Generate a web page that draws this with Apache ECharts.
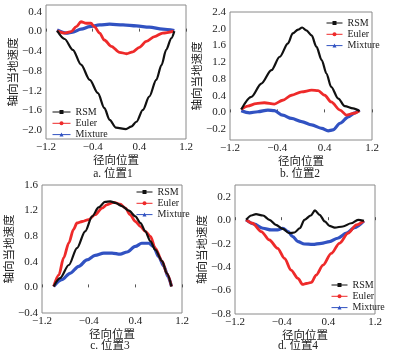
<!DOCTYPE html>
<html>
<head>
<meta charset="utf-8">
<script src="https://cdn.jsdelivr.net/npm/echarts@6/dist/echarts.min.js"></script>
<style>
	html, body { margin: 0; padding: 0; background: #fff; }
	#main { width: 394px; height: 359px; }
</style>
</head>
<body>
<div id="main"></div>
<script>
	// 刻度
	var xTicks = [-1.2, -0.4, 0.4, 1.2]
	var yTicksA = [-2.0, -1.6, -1.2, -0.8, -0.4, 0, 0.4]
	var yLabelsA = ['−2.0', '−1.6', '−1.2', '−0.8', '−0.4', '0.0', '0.4']
	var yTicksB = [-0.4, 0, 0.4, 0.8, 1.2, 1.6, 2.0, 2.4]
	var yLabelsB = ['−0.2', '0.0', '0.4', '0.8', '1.2', '1.6', '2.0', '2.4'] // 原图最下方标的就是 -0.2
	var yTicksC = [-0.4, 0, 0.4, 0.8, 1.2, 1.6]
	var yLabelsC = ['−0.4', '0.0', '0.4', '0.8', '1.2', '1.6']
	var yTicksD = [-0.8, -0.6, -0.4, -0.2, 0, 0.2]
	var yLabelsD = ['−0.8', '−0.6', '−0.4', '−0.2', '0.0', '0.2']
	var captions = ['a. 位置1', 'b. 位置2', 'c. 位置3', 'd. 位置4']
	var names = ['RSM', 'Euler', 'Mixture']

	// 位置1 [径向位置, 轴向当地速度]
	var rsm1 = [[-1.01, 0.02], [-0.88, -0.15], [-0.74, -0.37], [-0.60, -0.67], [-0.45, -0.98], [-0.31, -1.25], [-0.20, -1.55], [-0.11, -1.79], [0.00, -1.95], [0.17, -1.98], [0.26, -1.93], [0.35, -1.83], [0.46, -1.59], [0.57, -1.32], [0.69, -0.98], [0.78, -0.68], [0.86, -0.37], [0.95, -0.13], [1.00, 0.01]]
	var euler1 = [[-1.01, 0.015], [-0.88, -0.03], [-0.77, 0.0], [-0.68, 0.10], [-0.60, 0.20], [-0.51, 0.17], [-0.43, 0.17], [-0.37, 0.10], [-0.28, -0.03], [-0.20, -0.17], [-0.08, -0.30], [0.06, -0.42], [0.18, -0.45], [0.29, -0.41], [0.40, -0.32], [0.52, -0.20], [0.66, -0.10], [0.80, -0.03], [0.99, 0.01]]
	var mix1 = [[-1.01, 0.035], [-0.85, -0.03], [-0.74, -0.01], [-0.60, 0.05], [-0.45, 0.10], [-0.28, 0.135], [-0.11, 0.15], [0.12, 0.135], [0.35, 0.115], [0.57, 0.09], [0.80, 0.05], [1.00, 0.02]]

	// 位置2
	var rsm2 = [[-1.01, 0.07], [-0.84, 0.37], [-0.67, 0.69], [-0.50, 1.01], [-0.36, 1.33], [-0.22, 1.65], [-0.14, 1.89], [-0.05, 1.98], [0.02, 2.03], [0.09, 1.96], [0.18, 1.84], [0.26, 1.57], [0.35, 1.25], [0.43, 0.93], [0.51, 0.61], [0.63, 0.33], [0.74, 0.15], [0.88, 0.095], [0.99, 0.03]]
	var euler2 = [[-1.01, 0.07], [-0.90, 0.15], [-0.76, 0.21], [-0.62, 0.23], [-0.45, 0.20], [-0.31, 0.29], [-0.16, 0.41], [0.01, 0.49], [0.18, 0.53], [0.29, 0.52], [0.40, 0.41], [0.51, 0.25], [0.66, 0.055], [0.77, -0.065], [0.88, -0.025], [0.99, 0.04]]
	var mix2 = [[-1.01, 0.04], [-0.87, -0.01], [-0.73, 0.015], [-0.56, 0.055], [-0.45, 0.04], [-0.31, -0.065], [-0.16, -0.145], [0.01, -0.22], [0.18, -0.30], [0.35, -0.38], [0.46, -0.44], [0.54, -0.42], [0.66, -0.26], [0.80, -0.105], [0.91, -0.01], [0.99, 0.055]]

	// 位置3
	var rsm3 = [[-1.00, 0.015], [-0.89, 0.145], [-0.74, 0.35], [-0.60, 0.615], [-0.46, 0.876], [-0.34, 1.11], [-0.23, 1.25], [-0.12, 1.335], [-0.03, 1.345], [0.06, 1.32], [0.17, 1.27], [0.29, 1.20], [0.40, 1.11], [0.49, 1.005], [0.57, 0.876], [0.66, 0.72], [0.74, 0.59], [0.86, 0.41], [0.94, 0.22], [1.02, 0.015]]
	var euler3 = [[-1.00, 0.015], [-0.91, 0.197], [-0.83, 0.46], [-0.74, 0.695], [-0.66, 0.905], [-0.60, 1.006], [-0.51, 1.03], [-0.40, 1.06], [-0.29, 1.136], [-0.17, 1.24], [-0.09, 1.29], [0.03, 1.33], [0.14, 1.30], [0.23, 1.24], [0.31, 1.136], [0.40, 1.03], [0.49, 0.95], [0.57, 0.876], [0.66, 0.798], [0.74, 0.615], [0.86, 0.41], [0.94, 0.22], [1.02, 0.015]]
	var mix3 = [[-1.00, 0.015], [-0.86, 0.12], [-0.72, 0.22], [-0.57, 0.33], [-0.43, 0.43], [-0.29, 0.50], [-0.14, 0.537], [0.00, 0.537], [0.14, 0.52], [0.26, 0.553], [0.40, 0.64], [0.51, 0.69], [0.63, 0.69], [0.71, 0.64], [0.80, 0.48], [0.89, 0.33], [0.96, 0.17], [1.02, 0.015]]

	// 位置4
	var rsm4 = [[-1.01, 0.003], [-0.92, 0.04], [-0.84, 0.051], [-0.72, 0.04], [-0.61, 0.003], [-0.50, -0.04], [-0.38, -0.074], [-0.27, -0.111], [-0.18, -0.105], [-0.09, -0.069], [-0.01, 0.003], [0.10, 0.04], [0.17, 0.083], [0.25, 0.046], [0.34, -0.011], [0.42, -0.049], [0.51, -0.063], [0.65, -0.054], [0.79, -0.026], [0.91, 0.003], [1.01, -0.006]]
	var euler4 = [[-1.01, 0.003], [-0.90, -0.026], [-0.75, -0.097], [-0.61, -0.169], [-0.47, -0.24], [-0.35, -0.326], [-0.24, -0.426], [-0.12, -0.497], [-0.04, -0.548], [0.02, -0.54], [0.11, -0.531], [0.19, -0.468], [0.31, -0.383], [0.45, -0.283], [0.59, -0.197], [0.74, -0.111], [0.88, -0.04], [1.01, -0.006]]
	var mix4 = [[-1.01, 0.003], [-0.87, -0.034], [-0.72, -0.069], [-0.58, -0.083], [-0.47, -0.083], [-0.38, -0.069], [-0.29, -0.097], [-0.21, -0.14], [-0.12, -0.183], [-0.01, -0.203], [0.13, -0.206], [0.28, -0.197], [0.42, -0.183], [0.56, -0.154], [0.71, -0.111], [0.85, -0.063], [1.01, -0.006]]

	var serif = '"Liberation Serif", "DejaVu Serif", serif'
	var cjk = '"Noto Sans CJK SC", sans-serif'
	var capFont = '"Liberation Serif", "Noto Sans CJK SC", serif'
	var colors = ['#111111', '#ee2a2a', '#3152c2']
	var symbols = ['rect', 'circle', 'triangle']
	var widths = [2.2, 2.8, 3.2]

	var panels = [
		{ grid: { left: 46, top: 5, width: 140, height: 134 }, min: -2.18, max: 0.54, ticks: yTicksA, labels: yLabelsA, data: [rsm1, euler1, mix1], legend: { left: 47, top: 102, itemWidth: 18 }, nameGap: 27, cap: [113, 174] },
		{ grid: { left: 230, top: 12, width: 142, height: 128 }, min: -0.66, max: 2.4, ticks: yTicksB, labels: yLabelsB, data: [rsm2, euler2, mix2], legend: { left: 321, top: 13, itemWidth: 16 }, nameGap: 21, cap: [300, 174] },
		{ grid: { left: 42, top: 185, width: 140, height: 128 }, min: -0.4, max: 1.6, ticks: yTicksC, labels: yLabelsC, data: [rsm3, euler3, mix3], legend: { left: 131, top: 182, itemWidth: 16 }, nameGap: 28, cap: [110, 346] },
		{ grid: { left: 235, top: 185, width: 140, height: 129 }, min: -0.8, max: 0.3, ticks: yTicksD, labels: yLabelsD, data: [rsm4, euler4, mix4], legend: { left: 326, top: 275, itemWidth: 16 }, nameGap: 27, cap: [298, 346] }
	]

	function fmtX(v) {
		return v.toFixed(1).replace('-', '−')
	}

	var chart = echarts.init(document.getElementById('main'), null, { renderer: 'canvas' })
	var option = {
		animation: false,
		backgroundColor: '#fff',
		grid: [],
		xAxis: [],
		yAxis: [],
		legend: [],
		series: [],
		graphic: []
	}

	panels.forEach(function (p, i) {
		option.grid.push(Object.assign({ show: true, borderColor: '#8a8a8a', borderWidth: 1 }, p.grid))
		option.xAxis.push({
			type: 'value',
			gridIndex: i,
			min: -1.2,
			max: 1.2,
			name: '径向位置',
			nameLocation: 'middle',
			nameGap: 11,
			nameTextStyle: { fontSize: 11.5, color: '#222', fontFamily: cjk },
			axisLine: { show: false },
			axisTick: { show: true, inside: true, length: 3, customValues: xTicks, lineStyle: { color: '#555' } },
			splitLine: { show: false },
			axisLabel: { customValues: xTicks, margin: 3, fontSize: 11, color: '#222', fontFamily: serif, formatter: fmtX }
		})
		option.yAxis.push({
			type: 'value',
			gridIndex: i,
			min: p.min,
			max: p.max,
			name: '轴向当地速度',
			nameLocation: 'middle',
			nameGap: p.nameGap,
			nameTextStyle: { fontSize: 11.5, color: '#222', fontFamily: cjk },
			axisLine: { show: false },
			axisTick: { show: false },
			splitLine: { show: false },
			axisLabel: {
				customValues: p.ticks,
				margin: 4,
				fontSize: 11,
				color: '#222',
				fontFamily: serif,
				formatter: function (v) {
					for (var k = 0; k < p.ticks.length; k++) {
						if (Math.abs(p.ticks[k] - v) < 1e-6) return p.labels[k]
					}
					return ''
				}
			}
		})
		option.legend.push({
			orient: 'vertical',
			left: p.legend.left,
			top: p.legend.top,
			itemWidth: p.legend.itemWidth,
			itemHeight: 5,
			itemGap: 1.3,
			selectedMode: false,
			lineStyle: { width: 1 },
			textStyle: { fontSize: 10, color: '#222', fontFamily: serif, lineHeight: 10 },
			data: names
		})
		p.data.forEach(function (d, j) {
			option.series.push({
				name: names[j],
				type: 'line',
				xAxisIndex: i,
				yAxisIndex: i,
				data: d,
				symbol: symbols[j],
				symbolSize: 4,
				showSymbol: false,
				smooth: 0.3,
				smoothMonotone: 'x',
				lineStyle: { width: widths[j], color: colors[j] },
				itemStyle: { color: colors[j] },
				z: 3 - j
			})
		})
		option.graphic.push({
			type: 'text',
			x: p.cap[0],
			y: p.cap[1],
			style: { text: captions[i], align: 'center', verticalAlign: 'middle', textAlign: 'center', textVerticalAlign: 'middle', font: '11.5px ' + capFont, fill: '#222' }
		})
	})

	chart.setOption(option)
</script>
</body>
</html>
